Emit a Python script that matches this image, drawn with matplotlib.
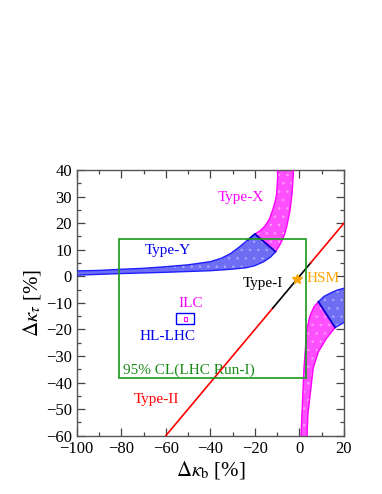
import numpy as np
import matplotlib
matplotlib.use("Agg")
import matplotlib.pyplot as plt
from matplotlib.patches import Rectangle

plt.rcParams['font.family'] = ['Liberation Serif', 'DejaVu Serif']
plt.rcParams['mathtext.fontset'] = 'stix'
plt.rcParams['hatch.linewidth'] = 0.5

# Type-Y band (blue), left branch
ty_up_x = [-101, -90, -81, -70, -60, -50, -40, -35, -31, -27, -23, -20]
ty_up_y = [2.0, 2.2, 2.6, 3.0, 3.6, 4.3, 5.5, 6.8, 8.5, 11.0, 13.8, 15.9]
ty_lo_x = [-101, -81, -60, -40, -30, -24, -20, -16, -13, -10.7]
ty_lo_y = [0.4, 1.0, 1.5, 2.1, 2.7, 3.2, 4.0, 5.5, 7.2, 9.25]

# Type-X band (magenta), upper branch
tx_left_x = [-20, -17.5, -15.5, -13.5, -12.0, -10.8, -10.2, -9.8, -9.7]
tx_left_y = [15.9, 17.2, 18.9, 21.5, 25.0, 28.5, 31.2, 37.0, 41.0]
tx_right_x = [-10.7, -8.4, -6.8, -5.7, -4.2, -3.3, -2.8, -2.7]
tx_right_y = [9.25, 12.4, 15.5, 18.7, 25.0, 31.3, 38.0, 41.0]

# lower-right branch
ly_x = [8.5, 11.0, 13.7, 17.0, 21.0, 21.0, 16.0]
ly_y = [-9.6, -7.6, -6.4, -5.2, -4.3, -16.9, -19.3]
lx_left_x = [8.5, 6.5, 4.7, 3.3, 2.7, 2.0, 1.5, 0.7, 0.6]
lx_left_y = [-9.6, -11.5, -15.0, -20.0, -27.0, -35.0, -45.0, -60.0, -61.0]
lx_right_x = [16.0, 12.2, 8.5, 6.2, 4.7, 3.8, 3.4, 3.4]
lx_right_y = [-19.3, -23.3, -28.4, -34.5, -45.3, -52.0, -60.0, -61.0]

# Type-I / Type-II diagonal
diag_red1 = [-61, -12]
diag_black = [-12, 5]
diag_red2 = [5, 21]

hsm = (-1.0, -1.0)
lhc_box = (-81.0, -38.2, 2.9, 14.0)   # x0, y0, x1, y1
hl_box = (-55.4, -17.8, -47.2, -14.0)
ilc_box = (-51.7, -17.0, -50.5, -15.2)

BLUE = '#1f1fff'
BLUE_FILL = '#6e6ef5'
MAG = '#ff00ff'
MAG_FILL = '#ff50ff'
DARK = '#0000c8'

fig = plt.figure(figsize=(3.82, 4.94), dpi=100)
ax = fig.add_axes([0.2008, 0.118, 0.6997, 0.5379])


def band(xs, ys, face, dots, edge):
    ax.fill(xs, ys, facecolor=face, edgecolor=dots, hatch='..', linewidth=0, zorder=2)
    ax.fill(xs, ys, facecolor='none', edgecolor=edge, linewidth=1.0, zorder=3)


# blue Type-Y left
bx = ty_up_x + [ty_lo_x[-1]] + ty_lo_x[::-1]
by = ty_up_y + [ty_lo_y[-1]] + ty_lo_y[::-1]
band(bx, by, BLUE_FILL, '#a8a8ff', BLUE)

# magenta Type-X upper
mx = tx_left_x + tx_right_x[::-1]
my = tx_left_y + tx_right_y[::-1]
band(mx, my, MAG_FILL, '#ffa0ff', MAG)

# lower right
band(ly_x, ly_y, BLUE_FILL, '#a8a8ff', BLUE)
mx2 = lx_left_x + lx_right_x[::-1]
my2 = lx_left_y + lx_right_y[::-1]
band(mx2, my2, MAG_FILL, '#ffa0ff', MAG)

# dark boundary lines between bands
ax.plot([tx_left_x[0], tx_right_x[0]], [tx_left_y[0], tx_right_y[0]], color=DARK, lw=1.2, zorder=4)
ax.plot([ty_up_x[-2], ty_up_x[-1]], [ty_up_y[-2], ty_up_y[-1]], color=DARK, lw=1.2, zorder=4)
ax.plot([lx_left_x[0], lx_right_x[0]], [lx_left_y[0], lx_right_y[0]], color=DARK, lw=1.2, zorder=4)

# diagonal
ax.plot(diag_red1, diag_red1, color='red', lw=1.2, zorder=5)
ax.plot(diag_black, diag_black, color='black', lw=1.2, zorder=5)
ax.plot(diag_red2, diag_red2, color='red', lw=1.2, zorder=5)

# boxes
x0, y0, x1, y1 = lhc_box
ax.add_patch(Rectangle((x0, y0), x1 - x0, y1 - y0, fill=False, edgecolor='#1a9a1a', lw=1.2, zorder=6))
x0, y0, x1, y1 = hl_box
ax.add_patch(Rectangle((x0, y0), x1 - x0, y1 - y0, fill=False, edgecolor='#0000ff', lw=1.0, zorder=6))
x0, y0, x1, y1 = ilc_box
ax.add_patch(Rectangle((x0, y0), x1 - x0, y1 - y0, fill=False, edgecolor=MAG, lw=0.8, zorder=6))

ax.plot(*hsm, marker='*', color='#ffa500', markersize=7, zorder=7)

fs = 11
ax.text(-26.2, 29.8, 'Type-X', color=MAG, fontsize=fs, ha='center', va='center')
ax.text(-59.2, 9.6, 'Type-Y', color='#0000ee', fontsize=fs, ha='center', va='center')
ax.text(-16.2, -2.6, 'Type-I', color='black', fontsize=fs, ha='center', va='center')
ax.text(3.2, -0.75, 'HSM', color='#ffa500', fontsize=fs, ha='left', va='center')
ax.text(-48.7, -10.4, 'ILC', color=MAG, fontsize=fs, ha='center', va='center')
ax.text(-59.2, -22.7, 'HL-LHC', color='#0000ee', fontsize=fs, ha='center', va='center')
ax.text(-79, -35.3, '95% CL(LHC Run-I)', color='#1a8a1a', fontsize=fs, ha='left', va='center')
ax.text(-64.1, -46.3, 'Type-II', color='red', fontsize=fs, ha='center', va='center')

ax.set_xlim(-100, 20)
ax.set_ylim(-60, 40)
ax.set_xticks(np.arange(-100, 21, 20))
ax.set_xticks(np.arange(-100, 21, 10), minor=True)
ax.set_yticks(np.arange(-60, 41, 10))
ax.set_yticks(np.arange(-60, 41, 5), minor=True)
ax.tick_params(which='both', direction='in', top=True, right=True, colors='#444444',
               labelcolor='black', labelsize=12)
ax.tick_params(which='major', length=6, width=0.9)
ax.tick_params(which='minor', length=3, width=0.9)
for s in ax.spines.values():
    s.set_color('#555555')
    s.set_linewidth(1.0)

ax.set_xlabel(r'$\Delta\kappa_{\mathrm{b}}$ [%]', fontsize=15, labelpad=2)
ax.set_ylabel(r'$\Delta\kappa_{\tau}$ [%]', fontsize=15, labelpad=2)

fig.savefig('out.png', dpi=100)
